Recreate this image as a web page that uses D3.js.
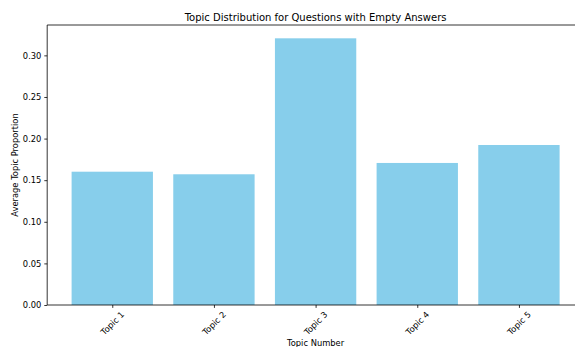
<!DOCTYPE html>
<html><head><meta charset="utf-8">
<script src="https://cdn.jsdelivr.net/npm/d3@7"></script>
<style>
body{margin:0;background:#fff;}
svg{display:block;font-family:"DejaVu Sans",sans-serif;}
</style></head>
<body>
<svg id="c" width="575" height="347"></svg>
<script>
const categories = ["Topic 1","Topic 2","Topic 3","Topic 4","Topic 5"];
const values = [0.1602, 0.1571, 0.3205, 0.1707, 0.1923];
const yTicks = [0.00,0.05,0.10,0.15,0.20,0.25,0.30];

(function(){
const svg = d3.select("#c");
const pL = 47.2, pR = 584, pT = 25, pB = 305;
const x = d3.scaleLinear().domain([-0.64, 4.64]).range([pL, pR]);
const y = d3.scaleLinear().domain([0, 0.3365]).range([pB, pT]);
const fs = 8.33;

svg.append("g").selectAll("rect").data(values).join("rect")
  .attr("x", (d,i)=>x(i-0.4)).attr("width", (d,i)=>x(i+0.4)-x(i-0.4))
  .attr("y", d=>y(d)).attr("height", d=>y(0)-y(d))
  .attr("fill", "#87CEEB");

// y axis
const ya = svg.append("g").attr("transform", `translate(${pL},0)`)
  .call(d3.axisLeft(y).tickValues(yTicks).tickFormat(d3.format(".2f")).tickSize(2.9).tickPadding(2.9));
ya.select(".domain").remove();
ya.selectAll("line").attr("stroke","#000").attr("stroke-width",0.8);
ya.selectAll("text").attr("font-size",fs).attr("font-family","DejaVu Sans").attr("fill","#000");

// x axis
const xa = svg.append("g").attr("transform", `translate(0,${pB})`)
  .call(d3.axisBottom(x).tickValues(d3.range(categories.length)).tickFormat(i=>categories[i]).tickSize(2.9).tickPadding(0));
xa.select(".domain").remove();
xa.selectAll("line").attr("stroke","#000").attr("stroke-width",0.8);
xa.selectAll("text").attr("font-size",fs).attr("font-family","DejaVu Sans").attr("fill","#000")
  .attr("text-anchor","middle").attr("dy",null).attr("y",null)
  .attr("transform","translate(0,18.5) rotate(-45)")
  .attr("dominant-baseline","middle");

// spines
const sp = svg.append("g").attr("stroke","#000").attr("stroke-width",0.8).attr("fill","none");
sp.append("line").attr("x1",pL).attr("x2",pL).attr("y1",pT).attr("y2",pB);
sp.append("line").attr("x1",pL).attr("x2",pR).attr("y1",pB).attr("y2",pB);
sp.append("line").attr("x1",pL).attr("x2",pR).attr("y1",pT).attr("y2",pT);
sp.append("line").attr("x1",pR).attr("x2",pR).attr("y1",pT).attr("y2",pB);

svg.append("text").attr("x",(pL+pR)/2).attr("y",20.5).attr("text-anchor","middle")
  .attr("font-size",10).attr("fill","#000").text("Topic Distribution for Questions with Empty Answers");
svg.append("text").attr("x",(pL+pR)/2).attr("y",346).attr("text-anchor","middle")
  .attr("font-size",fs).attr("fill","#000").text("Topic Number");
svg.append("text").attr("transform",`translate(17.5,${(pT+pB)/2}) rotate(-90)`).attr("text-anchor","middle")
  .attr("font-size",fs).attr("fill","#000").text("Average Topic Proportion");
})();
</script>
</body></html>
